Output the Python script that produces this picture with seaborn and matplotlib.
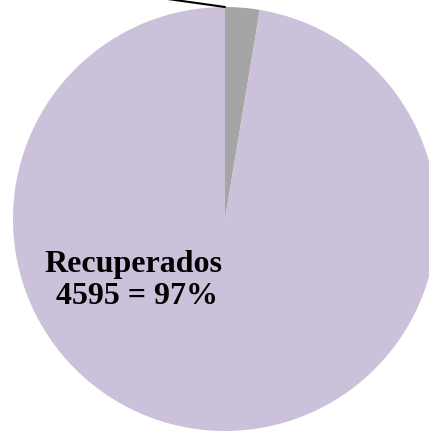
import matplotlib
matplotlib.use("Agg")
import matplotlib.pyplot as plt
import numpy as np
import seaborn as sns

sns.set_theme(style="white")
plt.rcParams.update({'font.family': ['Liberation Serif', 'DejaVu Serif'],
                     'font.weight': 'bold'})

# data
labels = ['Otros', 'Recuperados']
values = [124, 4595]
colors = ['#a5a5a5', '#ccc1da']

W, H = 429, 432
fig = plt.figure(figsize=(W / 100, H / 100), dpi=100)

# pie centre (225, 219) px, radius 212 px
cx, cy, r = 225, 219, 212
ax = fig.add_axes([(cx - r) / W, (H - cy - r) / H, 2 * r / W, 2 * r / H])

wedges, _ = ax.pie(values, colors=colors, startangle=90, counterclock=False,
                   radius=1.0, wedgeprops={'linewidth': 0})
ax.set_xlim(-1, 1)
ax.set_ylim(-1, 1)
ax.set_aspect('equal')
ax.axis('off')

# leader line of the small slice (its label is outside the picture)
ax.plot([0, -0.5], [1.0, 1.07], color='black', lw=1.5, clip_on=False)

pct = values[1] / sum(values) * 100
ax.text(-0.434, -0.29, f"{labels[1]}\n {values[1]} = {pct:.0f}%",
        ha='center', va='center', fontsize=23, fontweight='bold',
        color='black', linespacing=1.15)

fig.savefig('out.png', dpi=100)
